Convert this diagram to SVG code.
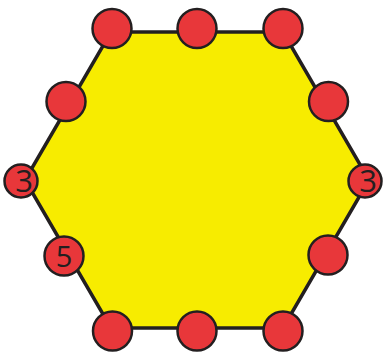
<svg xmlns="http://www.w3.org/2000/svg" width="384" height="352" viewBox="0 0 384 352">
<style>
.dot{fill:#e8373a;stroke:#231f20;stroke-width:2.5}
.num{font-family:"Open Sans","Liberation Sans",sans-serif;fill:#231f20;text-anchor:middle}
</style>
<rect width="384" height="352" fill="#ffffff"/>
<g id="hexagon">
<polygon points="111,32 283,32 369,180 283,328 111,328 25,180" fill="#f7ec00" stroke="#231f20" stroke-width="3.5" stroke-linejoin="miter"/>
</g>
<g id="dots">
<g id="n-top-left"><circle class="dot" cx="112" cy="28.5" r="19.5"/></g>
<g id="n-top-mid"><circle class="dot" cx="197" cy="28.5" r="19.5"/></g>
<g id="n-top-right"><circle class="dot" cx="283" cy="28.5" r="19.5"/></g>
<g id="n-upper-left"><circle class="dot" cx="66" cy="101.5" r="19.5"/></g>
<g id="n-upper-right"><circle class="dot" cx="328.5" cy="101.5" r="19.5"/></g>
<g id="n-left"><circle class="dot" cx="21" cy="181" r="16.5"/><text class="num" x="24" y="192" font-size="31">3</text></g>
<g id="n-right"><circle class="dot" cx="365" cy="181" r="16.5"/><text class="num" x="368" y="192" font-size="31">3</text></g>
<g id="n-lower-left"><circle class="dot" cx="64" cy="256" r="19.5"/><text class="num" x="64" y="267" font-size="29">5</text></g>
<g id="n-lower-right"><circle class="dot" cx="328" cy="255" r="19.5"/></g>
<g id="n-bottom-left"><circle class="dot" cx="112.5" cy="331" r="19.5"/></g>
<g id="n-bottom-mid"><circle class="dot" cx="197" cy="331" r="19.5"/></g>
<g id="n-bottom-right"><circle class="dot" cx="283" cy="331" r="19.5"/></g>
</g>
</svg>
